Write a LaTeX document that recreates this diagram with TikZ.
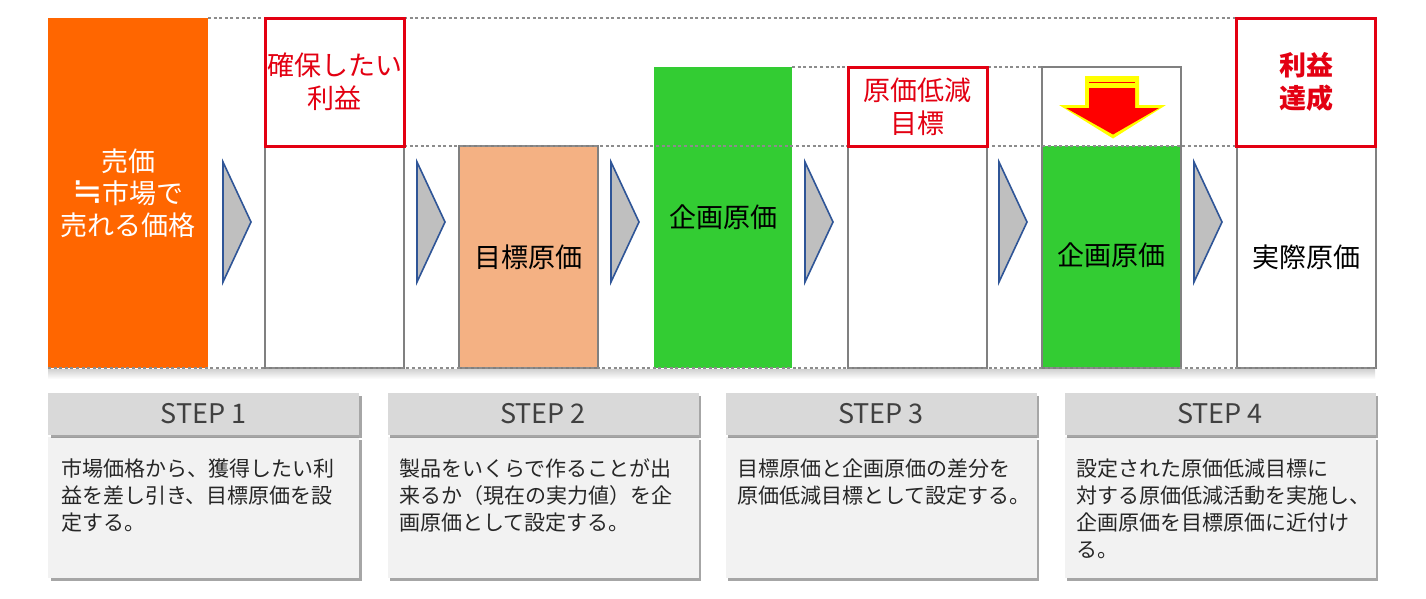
\documentclass[tikz,border=0pt]{standalone}
\usepackage{fontspec}
\setmainfont{Noto Sans CJK JP}
\newfontfamily\symfont{DejaVu Sans}
\usetikzlibrary{shadows}
\definecolor{orangeA}{HTML}{FF6600}
\definecolor{salmonA}{HTML}{F4B183}
\definecolor{greenA}{HTML}{33CC33}
\definecolor{redA}{HTML}{E30012}
\definecolor{grayB}{HTML}{808080}
\definecolor{dotC}{HTML}{8C8C8C}
\definecolor{chevF}{HTML}{BFBFBF}
\definecolor{chevB}{HTML}{2F5597}
\definecolor{hdrF}{HTML}{D9D9D9}
\definecolor{bodyF}{HTML}{F2F2F2}
\definecolor{txtD}{HTML}{262626}
\definecolor{txtH}{HTML}{404040}
\definecolor{yellowA}{HTML}{FFFF00}
\tikzset{
  plainbox/.style={inner sep=0pt, outer sep=0pt, minimum width=139pt, align=center,
    font=\fontsize{27}{33}\selectfont},
  graybox/.style={plainbox, draw=grayB, line width=2pt},
  redbox/.style={plainbox, draw=redA, line width=3pt, fill=white, text=redA},
  guide/.style={draw=dotC, line width=2.6pt, dash pattern=on 3pt off 2.6pt},
  chevron/.style={draw=chevB, fill=chevF, line width=1.6pt, line join=miter},
  stephead/.style={fill=hdrF, minimum width=311pt, minimum height=42pt, inner sep=0pt,
    text=txtH, font=\fontsize{27}{30}\selectfont,
    drop shadow={shadow xshift=2.5pt, shadow yshift=-2.5pt, fill=black, opacity=0.35}},
  stepbody/.style={fill=bodyF, minimum width=311pt, minimum height=141pt, inner sep=0pt,
    drop shadow={shadow xshift=2.5pt, shadow yshift=-2.5pt, fill=black, opacity=0.35}},
  steptext/.style={anchor=north west, inner sep=0pt, align=left, text=txtD,
    font=\fontsize{21}{27}\selectfont}
}
\begin{document}
\begin{tikzpicture}[x=1pt,y=-1pt]
\useasboundingbox (0,0) rectangle (1426,598);
\fill[white] (0,0) rectangle (1426,598);

% soft shadow under the base line
\shade[top color=black!18, bottom color=white] (48,369) rectangle (1375,379);

% column boxes
\node[plainbox, fill=orangeA, minimum width=160pt, minimum height=350pt, text=white,
  font=\fontsize{27}{32}\selectfont] (sell) at (128,193) {売価\\\scalebox{1.35}{\symfont ≒}市場で\\売れる価格};

\node[graybox, fill=white, minimum height=222pt] (b2) at (334.5,257) {};
\node[graybox, fill=salmonA, minimum height=222pt] (b3) at (528.5,257) {目標原価};
\node[plainbox, fill=greenA, minimum width=138pt, minimum height=301pt] (b4) at (723,217.5) {\raisebox{3pt}{企画原価}};
\node[graybox, fill=white, minimum height=222pt] (b5) at (917.5,257) {};
\fill[greenA] (1042,146) rectangle (1181,368);
\node[graybox, minimum height=301pt] (b6) at (1111.5,217.5) {};
\node[plainbox] (b6t) at (1111.5,255) {企画原価};
\node[graybox, fill=white, minimum height=222pt] (b7) at (1306,257) {実際原価};

% guide lines
\draw[guide] (sell.north east) -- (1237,18) coordinate (topend);
\draw[guide] (b2.north east) -- (b7.north west);
\draw[guide] (b4.north east) -- (b6.north west);
\draw[guide] (sell.south west) -- (b7.south east);

% red boxes
\node[redbox, minimum height=128pt] (r2) at (334.5,82) {確保したい\\利益};
\node[redbox, minimum height=79pt] (r5) at (917.5,106.5) {原価低減\\目標};
\node[redbox, minimum height=128pt, font=\fontsize{27}{33}\selectfont\bfseries] (r7) at (1306,82) {利益\\達成};

% chevrons
\foreach \L in {223,417,611,805,999,1194}{
  \draw[chevron] (\L,162) -- (\L+28,222) -- (\L,282) -- cycle;
}

% down arrow
\fill[yellowA] (1085,76) -- (1139,76) -- (1139,105) -- (1166,105) -- (1113,138.5) -- (1059,105) -- (1085,105) -- cycle;
\fill[red] (1089,88) -- (1135,88) -- (1135,108) -- (1159,108) -- (1113,134.5) -- (1066,108) -- (1089,108) -- cycle;
\draw[red, line width=1.6pt] (1089,82.5) -- (1135,82.5);

% steps
\foreach \n/\cx in {1/203.5,2/543,3/881,4/1220}{
  \node[stepbody] (s\n b) at (\cx,507.5) {};
  \node[stephead] (s\n h) at (\cx,414) {STEP \n};
}
\node[steptext] (s1t) at (61,459) {市場価格から、獲得したい利\\益を差し引き、目標原価を設\\定する。};
\node[steptext] (s2t) at (399,459) {製品をいくらで作ることが出\\来るか（現在の実力値）を企\\画原価として設定する。};
\node[steptext] (s3t) at (737,459) {目標原価と企画原価の差分を\\原価低減目標として設定する。};
\node[steptext] (s4t) at (1076,459) {設定された原価低減目標に\\対する原価低減活動を実施し、\\企画原価を目標原価に近付け\\る。};
\end{tikzpicture}
\end{document}
